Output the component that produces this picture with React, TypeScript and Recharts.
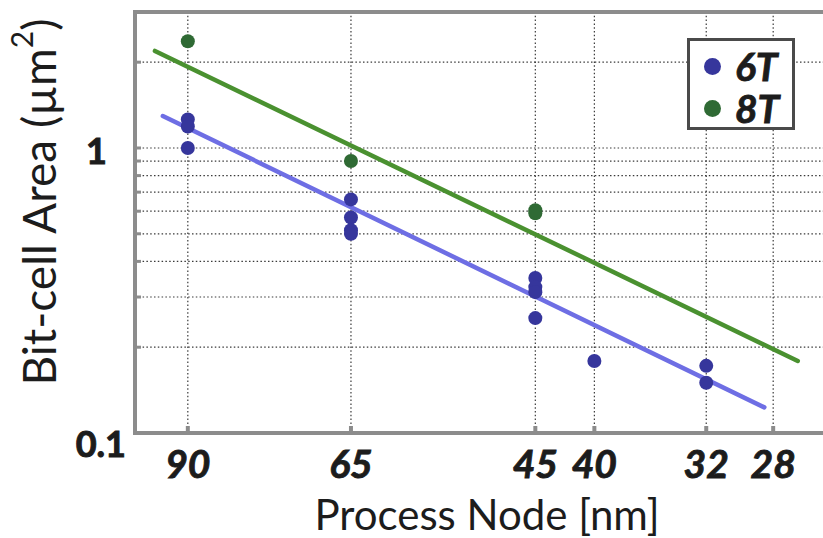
import React from "react";
import {
  ScatterChart,
  Scatter,
  XAxis,
  YAxis,
  CartesianGrid,
  ReferenceLine,
  ReferenceArea,
  Legend,
} from "recharts";

// process node ticks (nm), shown on a reversed log axis
const NODE_TICKS = [90, 65, 45, 40, 32, 28];
const AREA_TICKS = [0.1, 0.2, 0.3, 0.4, 0.5, 0.6, 0.7, 0.8, 0.9, 1, 2, 3];

// 6T bit-cells
const SIX_T_NODES = [90, 90, 90, 65, 65, 65, 65, 45, 45, 45, 45, 40, 32, 32];
const SIX_T_AREAS = [1.26, 1.19, 1.0, 0.66, 0.57, 0.515, 0.5, 0.35, 0.325, 0.312, 0.253, 0.179, 0.172, 0.15];

// 8T bit-cells
const EIGHT_T_NODES = [90, 65, 45, 45];
const EIGHT_T_AREAS = [2.37, 0.9, 0.605, 0.59];

// trend line end points [node, area]
const SIX_T_FIT = [[94.6, 1.295], [28.5, 0.123]];
const EIGHT_T_FIT = [[96.1, 2.19], [26.66, 0.179]];

const BLUE_DOT = "#36369c";
const GREEN_DOT = "#2f6a34";
const BLUE_LINE = "#6e6ee4";
const GREEN_LINE = "#4a9130";
const FRAME = "#8c8c8c";
const TEXT = "#1c1c1c";
const FONT = "Lato, 'Open Sans', sans-serif";

const sixT = SIX_T_NODES.map((n, i) => ({ node: n, area: SIX_T_AREAS[i] }));
const eightT = EIGHT_T_NODES.map((n, i) => ({ node: n, area: EIGHT_T_AREAS[i] }));

function Dot(color: string) {
  return (p: any) => <circle cx={p.cx} cy={p.cy} r={7} fill={color} />;
}

function BottomTick({ x, y, payload }: any) {
  return (
    <g>
      <line x1={x} x2={x} y1={y} y2={y - 7} stroke={FRAME} strokeWidth={4} />
      <text
        x={x}
        y={y + 45}
        textAnchor="middle"
        fontFamily={FONT}
        fontWeight={700}
        fontStyle="italic"
        fontSize={39}
        fill={TEXT}
        stroke={TEXT}
        strokeWidth={0.9}
      >
        {payload.value}
      </text>
    </g>
  );
}

function TopTick({ x, y }: any) {
  return <line x1={x} x2={x} y1={y} y2={y + 7} stroke={FRAME} strokeWidth={4} />;
}

function LeftTick({ x, y, payload }: any) {
  const v = payload.value;
  const common = {
    textAnchor: "end" as const,
    fontFamily: FONT,
    fontWeight: 700,
    fontSize: 36,
    fill: TEXT,
    stroke: TEXT,
    strokeWidth: 1,
  };
  let label = null;
  if (v === 1) {
    label = (
      <text x={x - 28} y={y + 16} {...common}>
        1
      </text>
    );
  } else if (v === 0.1) {
    label = (
      <text x={x - 9} y={y + 24} {...common}>
        0.1
      </text>
    );
  }
  return (
    <g>
      <line x1={x} x2={x + 6} y1={y} y2={y} stroke={FRAME} strokeWidth={3} />
      {label}
    </g>
  );
}

function YLabel({ viewBox }: any) {
  const cx = viewBox.x + 38;
  const cy = viewBox.y + 190;
  return (
    <text
      transform={`translate(${cx}, ${cy}) rotate(-90)`}
      textAnchor="middle"
      dominantBaseline="central"
      fontFamily={FONT}
      fontSize={46}
      fill={TEXT}
    >
      Bit-cell Area (µm
      <tspan dy={-17} fontSize={30}>2</tspan>
      <tspan dy={17}>)</tspan>
    </text>
  );
}

function XLabel({ viewBox }: any) {
  return (
    <text
      x={viewBox.x + 352}
      y={viewBox.y + 97}
      textAnchor="middle"
      fontFamily={FONT}
      fontSize={42}
      fill={TEXT}
    >
      Process Node [nm]
    </text>
  );
}

function LegendBox({ payload }: any) {
  return (
    <div
      style={{
        width: 108,
        height: 92,
        boxSizing: "border-box",
        border: "3px solid #4a4a4a",
        background: "#fff",
        paddingTop: 4,
      }}
    >
      {(payload || []).map((item: any) => (
        <div key={item.value} style={{ display: "flex", alignItems: "center", height: 42 }}>
          <span
            style={{
              display: "inline-block",
              width: 17,
              height: 17,
              borderRadius: "50%",
              background: item.color,
              marginLeft: 14,
              marginRight: 14,
            }}
          />
          <span
            style={{
              fontFamily: FONT,
              fontWeight: 700,
              fontStyle: "italic",
              fontSize: 39,
              color: TEXT,
              lineHeight: "38px",
              WebkitTextStroke: "0.9px " + TEXT,
            }}
          >
            {item.value}
          </span>
        </div>
      ))}
    </div>
  );
}

export default function App() {
  return (
    <div
      style={{
        position: "absolute",
        left: 0,
        top: 0,
        width: 823,
        height: 538,
        overflow: "hidden",
        background: "#fff",
      }}
    >
      <ScatterChart width={845} height={538} margin={{ top: 12, right: 15, bottom: 0, left: 0 }}>
        <CartesianGrid stroke="#3a3a3a" strokeWidth={1.2} strokeDasharray="1.5 2.3" />
        <XAxis
          dataKey="node"
          type="number"
          scale="log"
          domain={[25, 100]}
          reversed
          allowDataOverflow
          ticks={NODE_TICKS}
          interval={0}
          axisLine={false}
          tickLine={false}
          tickSize={0}
          tickMargin={0}
          tick={<BottomTick />}
          height={105}
          label={<XLabel />}
        />
        <XAxis
          xAxisId="top"
          orientation="top"
          dataKey="node"
          type="number"
          scale="log"
          domain={[25, 100]}
          reversed
          allowDataOverflow
          ticks={NODE_TICKS}
          interval={0}
          axisLine={false}
          tickLine={false}
          tickSize={0}
          tickMargin={0}
          tick={<TopTick />}
          height={0}
        />
        <YAxis
          dataKey="area"
          type="number"
          scale="log"
          domain={[0.1, 3]}
          allowDataOverflow
          ticks={AREA_TICKS}
          interval={0}
          axisLine={false}
          tickLine={false}
          tickSize={0}
          tickMargin={0}
          tick={<LeftTick />}
          width={135}
          label={<YLabel />}
        />
        <ReferenceArea
          x1={100}
          x2={25}
          y1={0.1}
          y2={3}
          fill="none"
          fillOpacity={0}
          stroke={FRAME}
          strokeWidth={4}
          ifOverflow="visible"
        />
        <ReferenceLine
          segment={[
            { x: SIX_T_FIT[0][0], y: SIX_T_FIT[0][1] },
            { x: SIX_T_FIT[1][0], y: SIX_T_FIT[1][1] },
          ]}
          stroke={BLUE_LINE}
          strokeWidth={4.5}
          strokeLinecap="round"
        />
        <ReferenceLine
          segment={[
            { x: EIGHT_T_FIT[0][0], y: EIGHT_T_FIT[0][1] },
            { x: EIGHT_T_FIT[1][0], y: EIGHT_T_FIT[1][1] },
          ]}
          stroke={GREEN_LINE}
          strokeWidth={4.5}
          strokeLinecap="round"
        />
        <Scatter name="6T" data={sixT} fill={BLUE_DOT} shape={Dot(BLUE_DOT)} isAnimationActive={false} />
        <Scatter name="8T" data={eightT} fill={GREEN_DOT} shape={Dot(GREEN_DOT)} isAnimationActive={false} />
        <Legend
          layout="vertical"
          align="center"
          verticalAlign="middle"
          content={<LegendBox />}
          wrapperStyle={{ top: 38, left: 687, width: 108, height: 92 }}
        />
      </ScatterChart>
    </div>
  );
}
